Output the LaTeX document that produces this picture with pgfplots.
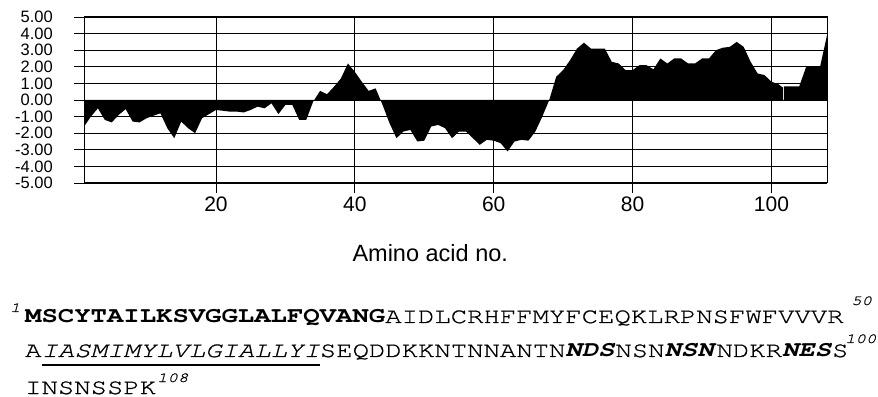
\documentclass[border=0pt]{standalone}
\usepackage{fontspec}
\usepackage{pgfplots}
\pgfplotsset{compat=1.18}
\setmainfont{Liberation Sans}
\newfontfamily\seqfont[FakeStretch=1.24, UprightFeatures={FakeBold=0.8}, ItalicFeatures={FakeBold=0.8}]{TeX Gyre Cursor}
\newsavebox\ulbox
\newcommand\ul[1]{\sbox\ulbox{#1}\rlap{\rule[-9.5bp]{\wd\ulbox}{2.5bp}}\usebox\ulbox}
\newcommand\bi[1]{\textbf{\textit{#1}}}
\begin{document}
\begin{tikzpicture}
\useasboundingbox (0,0) rectangle (878bp,397bp);
\begin{axis}[
  at={(84bp,214bp)}, anchor=south west,
  scale only axis, width=743bp, height=166bp,
  xmin=1, xmax=108, ymin=-5, ymax=5,
  xtick={20,40,60,80,100},
  xticklabels={20,40,60,80,100},
  ytick={-5,-4,-3,-2,-1,0,1,2,3,4,5},
  yticklabels={-5.00,-4.00,-3.00,-2.00,-1.00,0.00,1.00,2.00,3.00,4.00,5.00},
  grid=major,
  major grid style={black, line width=0.8bp},
  axis line style={black, line width=1bp},
  tick align=outside,
  major tick length=10bp,
  tick style={black, line width=0.8bp},
  xtick pos=bottom, ytick pos=left,
  yticklabel style={font=\fontsize{16.5bp}{16.5bp}\selectfont, inner sep=1bp, xshift=-20bp},
  xticklabel style={font=\fontsize{21bp}{21bp}\selectfont},
  xlabel={Amino acid no.},
  xlabel style={font=\fontsize{23.5bp}{24bp}\selectfont, at={(axis description cs:0.466,0)}, anchor=base, yshift=-79bp},
]
\addplot[fill=black, draw=none] coordinates {
(1,0)(1,-1.6)(2,-1.0)(3,-0.5)(4,-1.2)(5,-1.35)(6,-0.9)(7,-0.55)(8,-1.3)(9,-1.35)(10,-1.1)
(11,-0.95)(12,-0.8)(13,-1.7)(14,-2.3)(15,-1.3)(16,-1.7)(17,-2.0)(18,-1.1)(19,-0.85)(20,-0.6)
(21,-0.65)(22,-0.7)(23,-0.7)(24,-0.75)(25,-0.6)(26,-0.4)(27,-0.5)(28,-0.2)(29,-0.85)(30,-0.3)
(31,-0.3)(32,-1.2)(33,-1.2)(34,-0.1)(35,0.55)(36,0.35)(37,0.8)(38,1.3)(39,2.2)(40,1.7)
(41,1.1)(42,0.55)(43,0.7)(44,-0.3)(45,-1.4)(46,-2.3)(47,-1.9)(48,-1.8)(49,-2.5)(50,-2.45)
(51,-1.6)(52,-1.5)(53,-1.7)(54,-2.3)(55,-1.9)(56,-1.9)(57,-2.3)(58,-2.7)(59,-2.4)(60,-2.45)
(61,-2.6)(62,-3.1)(63,-2.5)(64,-2.4)(65,-2.45)(66,-1.9)(67,-1.0)(68,0.0)(69,1.4)(70,1.8)
(71,2.4)(72,3.1)(73,3.45)(74,3.1)(75,3.1)(76,3.1)(77,2.3)(78,2.2)(79,1.8)(80,1.8)
(81,2.1)(82,2.1)(83,1.85)(84,2.5)(85,2.2)(86,2.5)(87,2.5)(88,2.2)(89,2.2)(90,2.5)
(91,2.5)(92,3.0)(93,3.15)(94,3.2)(95,3.5)(96,3.2)(97,2.3)(98,1.6)(99,1.5)(100,1.1)
(101,0.95)(101.65,0.75)(101.65,0)(101.8,0)(101.8,0.82)(103,0.82)(104,0.82)(105,2.0)(106,2.0)(107,2.0)(108,3.9)(108,0)
};
\end{axis}
\node[anchor=base west, inner sep=0] at (10bp,85bp) {\seqfont\itshape\fontsize{14bp}{16bp}\selectfont 1};
\node[anchor=base west, inner sep=0] at (851bp,92bp) {\seqfont\itshape\fontsize{14bp}{16bp}\selectfont 50};
\node[anchor=base west, inner sep=0] at (845bp,54bp) {\seqfont\itshape\fontsize{14bp}{16bp}\selectfont 100};
\node[anchor=base west, inner sep=0] at (157bp,15bp) {\seqfont\itshape\fontsize{14bp}{16bp}\selectfont 108};
\node[anchor=base west, inner sep=0] at (25bp,74bp) {\seqfont\fontsize{22bp}{26bp}\selectfont \textbf{MSCYTAILKSVGGLALFQVANG}AIDLCRHFFMYFCEQKLRPNSFWFVVVR};
\node[anchor=base west, inner sep=0] at (25bp,40bp) {\seqfont\fontsize{22bp}{26bp}\selectfont A\ul{\textit{IASMIMYLVLGIALLYI}}SEQDDKKNTNNANTN\bi{NDS}NSN\bi{NSN}NDKR\bi{NES}S};
\node[anchor=base west, inner sep=0] at (25bp,3bp) {\seqfont\fontsize{22bp}{26bp}\selectfont INSNSSPK};
\end{tikzpicture}
\end{document}
